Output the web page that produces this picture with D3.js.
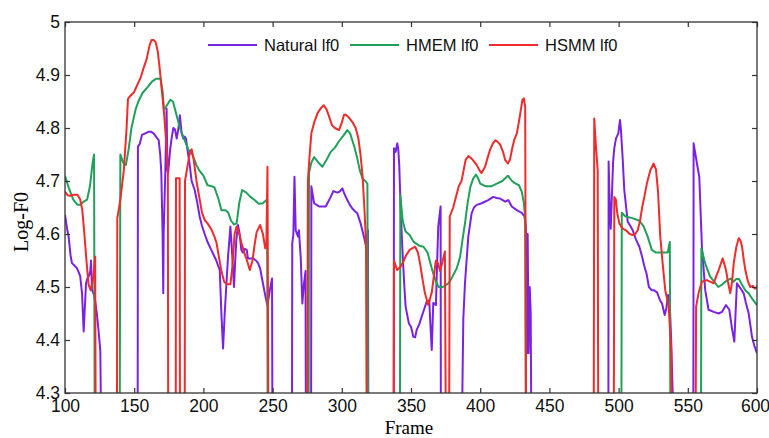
<!DOCTYPE html>
<html>
<head>
<meta charset="utf-8">
<script src="https://cdn.jsdelivr.net/npm/d3@7"></script>
<style>
  body { margin: 0; background: #fff; }
  svg { display: block; }
  .tick text { font-family: "Liberation Sans", Arial, sans-serif; font-size: 17.5px; fill: #111; }
  .tick line { stroke: #333; stroke-width: 1.2; }
</style>
</head>
<body>
<svg width="769" height="438"></svg>
<script>
// unvoiced frames fall below the axis and get clipped, giving the vertical drops
const U = 4.2

const seriesNames = ["Natural lf0", "HMEM lf0", "HSMM lf0"]
const seriesColors = ["#7a22e4", "#20a058", "#ee2c2c"]
const xTicks = [100, 150, 200, 250, 300, 350, 400, 450, 500, 550, 600]
const yTicks = [4.3, 4.4, 4.5, 4.6, 4.7, 4.8, 4.9, 5]

const naturalLf0 = [
  [100,4.636],[101.5,4.61],[102.6,4.595],[104,4.56],[105,4.545],[107,4.54],[108.7,4.535],[110,4.527],[111,4.52],[112.3,4.488],[113.5,4.416],[115.2,4.507],[116,4.515],[117.1,4.52],[118.3,4.53],[118.8,4.55],[119.5,4.494],[121,4.485],[121.9,4.472],[123,4.45],[124.3,4.416],[125.5,4.38],[126.3,U],
  [152.5,U],[152.7,4.765],[154,4.77],[155.6,4.787],[158,4.79],[160.5,4.793],[162,4.793],[164,4.79],[166,4.783],[167.7,4.777],[168.8,4.75],[169.6,4.715],[170.5,4.6],[171,4.488],[171.3,4.6],[172.5,4.72],[173.4,4.837],[174,4.72],[174.5,4.715],[176,4.76],[177,4.78],[178.3,4.8],[179.5,4.797],[180.7,4.78],[182,4.8],[183,4.824],[184.3,4.79],[185.5,4.78],[186.5,4.784],[187.4,4.78],[189,4.75],[190,4.733],[191.5,4.7],[193.7,4.683],[195.5,4.66],[197.3,4.633],[199,4.615],[200.9,4.6],[203,4.585],[205.7,4.57],[207.5,4.56],[209.3,4.55],[211.8,4.532],[213,4.45],[214.2,4.384],[215.4,4.45],[216.5,4.5],[217.8,4.557],[219.5,4.614],[220.9,4.557],[222.1,4.5],[223,4.55],[223.8,4.589],[225,4.617],[226.2,4.6],[227.4,4.57],[228.5,4.565],[229.8,4.572],[231.3,4.57],[232.2,4.554],[234,4.554],[235.8,4.554],[238,4.55],[239.5,4.545],[241,4.535],[243,4.507],[245,4.48],[246.2,4.466],[247.2,4.48],[248,4.494],[249.6,4.516],[249.9,U],
  [264,U],[264.2,4.582],[265,4.6],[265.8,4.708],[266.7,4.607],[268.4,4.595],[269,4.607],[270.3,4.557],[271.5,4.469],[272.7,4.507],[273.8,4.53],[274.1,U],
  [277.8,U],[278,4.69],[280,4.658],[283.5,4.652],[286,4.652],[288.4,4.652],[290,4.66],[292,4.67],[293.9,4.681],[296.8,4.678],[298.5,4.68],[300.4,4.686],[302,4.675],[304,4.664],[305.8,4.655],[307.6,4.648],[309.5,4.643],[311.2,4.639],[313.6,4.62],[316,4.595],[317.2,4.58],[318.9,4.607],[319.2,U],
  [337.5,U],[337.7,4.762],[338.9,4.755],[340.1,4.771],[340.8,4.76],[341.5,4.73],[342.5,4.65],[343.7,4.576],[345,4.51],[346.1,4.463],[348.5,4.431],[350,4.425],[351.7,4.406],[353,4.405],[354.1,4.419],[356,4.43],[357.7,4.444],[359.5,4.458],[361.3,4.472],[363.2,4.475],[364,4.43],[365,4.381],[366.1,4.47],[368,4.466],[368.8,4.54],[369.7,4.614],[371.4,4.652],[371.6,U],
  [386.6,U],[387.8,4.44],[389,4.507],[391.4,4.595],[393.8,4.639],[395.5,4.65],[397.5,4.655],[401,4.658],[405.8,4.664],[409.4,4.67],[412,4.668],[414.3,4.667],[418,4.661],[420.3,4.664],[422.8,4.652],[426.4,4.645],[430,4.64],[432,4.633],[433,4.614],[433.7,4.375],[434.3,4.6],[435,4.375],[435.8,4.5],[436.5,4.45],[437,U],
  [492.6,U],[492.8,4.737],[493.5,4.66],[494.3,4.61],[495,4.66],[496,4.735],[496.9,4.762],[498.1,4.78],[499.8,4.79],[501,4.815],[501.7,4.796],[503,4.74],[504.1,4.683],[506.6,4.623],[508.5,4.615],[510.2,4.607],[512.5,4.59],[515,4.576],[517,4.557],[518.5,4.54],[520.2,4.525],[521.9,4.5],[523.9,4.494],[525.4,4.494],[527.8,4.49],[529.9,4.475],[531.4,4.469],[533.3,4.447],[534.5,4.46],[535.7,4.485],[536.5,4.47],[537.1,4.457],[538,4.4],[539.1,4.3],[539.3,U],
  [554,U],[554.2,4.771],[556.6,4.733],[558.3,4.708],[560.2,4.576],[562.6,4.494],[565,4.457],[568.7,4.453],[572.3,4.45],[574.7,4.453],[577.6,4.466],[580,4.457],[581.9,4.422],[583.6,4.397],[585.5,4.507],[587.9,4.498],[590.4,4.488],[592,4.47],[594,4.45],[596.4,4.406],[598,4.39],[600,4.375]
]

const hmemLf0 = [
  [100,4.71],[103,4.685],[106,4.665],[109,4.655],[111,4.655],[113,4.66],[116,4.665],[118,4.69],[120,4.735],[121,4.75],[121.5,U],
  [139.5,U],[140,4.75],[142,4.735],[144,4.73],[146,4.76],[148,4.8],[151,4.835],[153,4.85],[156,4.866],[160,4.878],[163,4.888],[166,4.893],[169,4.893],[170.5,4.87],[171.5,4.835],[173,4.84],[176,4.853],[178,4.85],[180,4.83],[183,4.8],[186,4.78],[189,4.76],[192,4.75],[195,4.73],[197,4.72],[200,4.71],[203,4.692],[206,4.69],[208,4.688],[211,4.665],[213,4.645],[216,4.645],[218,4.64],[220,4.625],[222,4.618],[224,4.62],[226,4.66],[228,4.683],[231,4.678],[234,4.67],[237,4.664],[240,4.657],[243,4.658],[246,4.665],[246.5,U],
  [276,U],[276.3,4.715],[278,4.735],[280,4.745],[283,4.735],[286,4.727],[289,4.74],[292,4.755],[295,4.763],[298,4.775],[301,4.785],[304,4.796],[306,4.79],[309,4.765],[311,4.745],[313,4.72],[315,4.705],[317,4.7],[318.5,4.695],[319,U],
  [342,U],[342.3,4.673],[344,4.625],[346,4.605],[349,4.598],[352,4.585],[356,4.578],[359,4.576],[362,4.565],[364,4.545],[366,4.526],[368,4.51],[370,4.5],[373,4.5],[376,4.505],[378,4.51],[380,4.52],[383,4.535],[385.5,4.557],[387,4.585],[389,4.62],[391,4.66],[393,4.69],[395,4.705],[397,4.712],[398.5,4.705],[400,4.695],[404,4.69],[408,4.69],[412,4.695],[416,4.7],[420,4.71],[423,4.7],[425,4.696],[428,4.692],[430,4.68],[431.5,4.66],[432.5,4.63],[433,U],
  [502,U],[502.3,4.64],[505,4.633],[510,4.63],[515,4.625],[518,4.615],[521,4.595],[524,4.57],[527,4.565],[531,4.565],[535.5,4.565],[537,4.585],[537.5,U],
  [559.5,U],[559.8,4.573],[562.5,4.545],[566,4.52],[569,4.51],[572,4.5],[575,4.505],[578,4.512],[581,4.516],[583,4.51],[585,4.515],[587,4.515],[589,4.505],[591.5,4.494],[594,4.488],[597,4.476],[600,4.466]
]

const hsmmLf0 = [
  [100,4.68],[102,4.673],[104,4.672],[106,4.674],[109,4.674],[111,4.665],[112.5,4.645],[114,4.6],[115.5,4.55],[117,4.505],[118.5,4.494],[120,4.51],[121,4.535],[121.8,4.557],[122.2,U],
  [137.5,U],[137.8,4.63],[140,4.665],[142.5,4.72],[144.5,4.8],[145.5,4.855],[147,4.86],[150,4.868],[152,4.88],[154.5,4.894],[157,4.915],[159,4.93],[161,4.955],[162.5,4.966],[164,4.966],[165.5,4.962],[167,4.945],[168.5,4.91],[170,4.87],[171.5,4.83],[173,4.777],[174.3,4.72],[174.6,U],
  [180,U],[180.2,4.705],[182.8,4.705],[183.1,U],
  [186.5,U],[186.7,4.7],[188,4.72],[190,4.75],[191.5,4.76],[193,4.74],[195,4.7],[197,4.67],[199,4.64],[201,4.626],[203,4.62],[205.5,4.61],[208,4.595],[209.5,4.583],[211,4.56],[213,4.53],[215,4.51],[217,4.505],[219.5,4.505],[221,4.54],[222.5,4.6],[224,4.614],[226,4.6],[227.5,4.583],[229.5,4.565],[231.5,4.55],[233.5,4.532],[235.5,4.55],[237,4.58],[238.5,4.604],[241,4.617],[243,4.6],[244.7,4.573],[245.5,4.575],[246.3,4.727],[247,U],
  [275,U],[275.5,4.7],[276.5,4.74],[278,4.79],[280,4.81],[282.5,4.828],[285,4.838],[287,4.843],[289,4.835],[291,4.82],[293,4.805],[295,4.8],[298,4.796],[300,4.81],[301.6,4.825],[303,4.825],[305,4.82],[308,4.81],[310,4.8],[312,4.78],[313.5,4.75],[315,4.71],[316.5,4.64],[317.5,4.583],[318,U],
  [337.5,U],[337.7,4.55],[340,4.532],[342,4.537],[344,4.545],[346.5,4.56],[349,4.57],[353,4.576],[355,4.565],[356.5,4.545],[358,4.52],[360,4.489],[362.5,4.466],[365,4.49],[366.5,4.52],[368,4.55],[369.5,4.545],[371,4.53],[372.5,4.545],[374.5,4.567],[375.2,U],
  [377.5,U],[378,4.633],[380.5,4.65],[383,4.675],[384.5,4.69],[386.5,4.7],[388,4.72],[389.5,4.74],[391.5,4.747],[393.5,4.743],[395.5,4.737],[397.5,4.73],[399.5,4.72],[401,4.715],[403.5,4.727],[405.5,4.745],[407,4.758],[409,4.77],[411,4.777],[413,4.773],[414.5,4.768],[416.5,4.755],[418,4.74],[420,4.733],[421.5,4.74],[423,4.76],[424.5,4.777],[426.5,4.79],[428.5,4.82],[430.5,4.853],[431.5,4.856],[432.5,4.84],[433.2,U],
  [482,U],[482.4,4.818],[483.5,4.77],[484.9,4.72],[485.3,U],
  [496.5,U],[496.9,4.67],[498,4.665],[499,4.64],[500.5,4.62],[503,4.61],[505.3,4.607],[508,4.6],[510.2,4.598],[512,4.6],[513.8,4.607],[515.5,4.625],[517,4.65],[518.6,4.67],[520.5,4.696],[522.9,4.72],[525.3,4.733],[527,4.722],[528.5,4.68],[530.1,4.595],[532,4.54],[533.7,4.494],[536.2,4.463],[538,4.38],[538.6,U],
  [555.6,U],[556,4.463],[557.8,4.489],[560.2,4.51],[563.9,4.513],[566,4.51],[568.7,4.507],[570.5,4.52],[572.3,4.532],[575.2,4.554],[577.6,4.532],[579,4.51],[580.7,4.488],[582,4.51],[583.2,4.545],[585,4.575],[586.8,4.592],[588,4.588],[589.2,4.576],[590.5,4.55],[591.6,4.532],[593.5,4.51],[595.2,4.5],[597,4.502],[598.5,4.497],[600,4.5]
]

const allSeries = [naturalLf0, hmemLf0, hsmmLf0]

const svg = d3.select("svg")
const margin = {top: 22, right: 12, bottom: 45, left: 65}
const W = 769, H = 438
const iw = W - margin.left - margin.right
const ih = H - margin.top - margin.bottom

const x = d3.scaleLinear().domain([100, 600]).range([0, iw])
const y = d3.scaleLinear().domain([4.3, 5]).range([ih, 0])

const g = svg.append("g").attr("transform", `translate(${margin.left},${margin.top})`)

svg.append("defs").append("clipPath").attr("id", "plotclip")
  .append("rect").attr("width", iw).attr("height", ih)

// series
const line = d3.line().x(d => x(d[0])).y(d => y(d[1]))
g.append("g").attr("clip-path", "url(#plotclip)")
  .selectAll("path")
  .data(allSeries)
  .enter().append("path")
  .attr("d", line)
  .attr("fill", "none")
  .attr("stroke", (d, i) => seriesColors[i])
  .attr("stroke-width", 2)
  .attr("stroke-linejoin", "round")

// axes, ticks pointing inwards
const fmtY = d => d === 5 ? "5" : d3.format(".1f")(d)
const xAxisG = g.append("g").attr("transform", `translate(0,${ih})`)
  .call(d3.axisBottom(x).tickValues(xTicks).tickSizeInner(-5).tickSizeOuter(0).tickPadding(7))
// last label sits right on the window edge, nudge it in a bit
xAxisG.selectAll(".tick text").filter(d => d === 600).attr("dx", "-2")
g.append("g")
  .call(d3.axisLeft(y).tickValues(yTicks).tickFormat(fmtY).tickSizeInner(-5).tickSizeOuter(0).tickPadding(5))
g.append("g")
  .call(d3.axisTop(x).tickValues(xTicks).tickFormat("").tickSizeInner(-5).tickSizeOuter(0))
g.append("g").attr("transform", `translate(${iw},0)`)
  .call(d3.axisRight(y).tickValues(yTicks).tickFormat("").tickSizeInner(-5).tickSizeOuter(0))
g.selectAll(".domain").remove()

g.append("rect")
  .attr("width", iw).attr("height", ih)
  .attr("fill", "none").attr("stroke", "#333").attr("stroke-width", 1.3)

// axis titles
svg.append("text")
  .attr("x", margin.left + iw / 2 - 2).attr("y", 434)
  .attr("text-anchor", "middle")
  .style("font-family", "'Liberation Serif', 'Times New Roman', serif")
  .style("font-size", "19px")
  .text("Frame")

svg.append("text")
  .attr("transform", "translate(28,222) rotate(-90)")
  .attr("text-anchor", "middle")
  .style("font-family", "'Liberation Serif', 'Times New Roman', serif")
  .style("font-size", "20px")
  .text("Log-F0")

// legend
const legendX = [208, 350, 489]
const legend = svg.append("g")
seriesNames.forEach((name, i) => {
  legend.append("line")
    .attr("x1", legendX[i]).attr("x2", legendX[i] + 49)
    .attr("y1", 45).attr("y2", 45)
    .attr("stroke", seriesColors[i]).attr("stroke-width", 2)
  legend.append("text")
    .attr("x", legendX[i] + 56).attr("y", 51)
    .style("font-family", "'Liberation Sans', Arial, sans-serif")
    .style("font-size", "16.5px")
    .attr("fill", "#111")
    .text(name)
})
</script>
</body>
</html>
